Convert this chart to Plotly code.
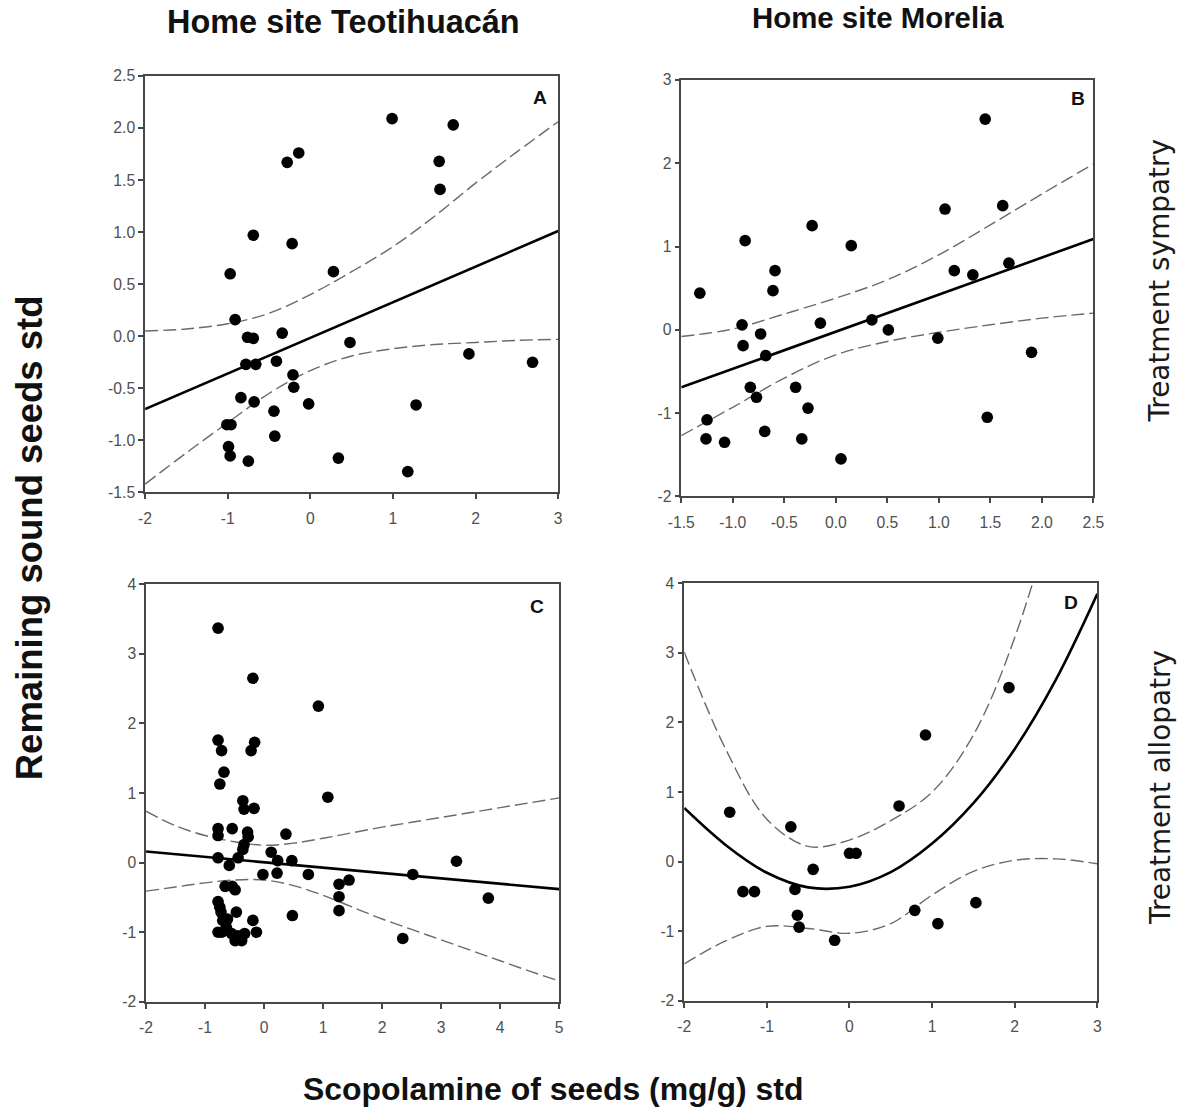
import plotly.graph_objects as go

# ---------------- Panel A: Teotihuacán, sympatry ----------------
a_x = [0.99, 1.73, -0.14, -0.28, 1.56, 1.57, -0.69, -0.22, 0.28, -0.97,
       -0.91, -0.76, -0.69, -0.34, 0.48, 1.92, 2.69, -0.78, -0.66, -0.41,
       -0.21, -0.20, -0.84, -0.68, -0.02, -0.44, 1.28, -1.01, -0.96, -0.43,
       -0.99, -0.97, -0.75, 0.34, 1.18]
a_y = [2.09, 2.03, 1.76, 1.67, 1.68, 1.41, 0.97, 0.89, 0.62, 0.60,
       0.16, -0.01, -0.02, 0.03, -0.06, -0.17, -0.25, -0.27, -0.27, -0.24,
       -0.37, -0.49, -0.59, -0.63, -0.65, -0.72, -0.66, -0.85, -0.85, -0.96,
       -1.06, -1.15, -1.20, -1.17, -1.30]
a_fit_x = [-2, 3]
a_fit_y = [-0.70, 1.01]
a_band_x = [-2, -1.5, -1, -0.5, 0, 0.5, 1, 1.5, 2, 2.5, 3]
a_upper = [0.05, 0.07, 0.12, 0.22, 0.40, 0.62, 0.86, 1.15, 1.47, 1.77, 2.06]
a_lower = [-1.42, -1.12, -0.83, -0.55, -0.33, -0.19, -0.12, -0.08, -0.06, -0.04, -0.03]
a_xticks = [-2, -1, 0, 1, 2, 3]
a_xlabels = ["-2", "-1", "0", "1", "2", "3"]
a_yticks = [-1.5, -1.0, -0.5, 0.0, 0.5, 1.0, 1.5, 2.0, 2.5]
a_ylabels = ["-1.5", "-1.0", "-0.5", "0.0", "0.5", "1.0", "1.5", "2.0", "2.5"]

# ---------------- Panel B: Morelia, sympatry ----------------
b_x = [1.45, 1.62, 1.06, -0.23, -0.88, 0.15, -0.59, 1.15, 1.33, 1.68,
       -0.61, -1.32, -0.91, -0.15, 0.35, 0.51, -0.73, -0.90, -0.68, 0.99,
       1.90, -0.83, -0.39, -0.77, -0.27, 1.47, -1.25, -1.26, -0.69, -1.08,
       -0.33, 0.05]
b_y = [2.53, 1.49, 1.45, 1.25, 1.07, 1.01, 0.71, 0.71, 0.66, 0.80,
       0.47, 0.44, 0.06, 0.08, 0.12, 0.00, -0.05, -0.19, -0.31, -0.10,
       -0.27, -0.69, -0.69, -0.81, -0.94, -1.05, -1.08, -1.31, -1.22, -1.35,
       -1.31, -1.55]
b_fit_x = [-1.5, 2.5]
b_fit_y = [-0.69, 1.09]
b_band_x = [-1.5, -1.0, -0.5, 0.0, 0.5, 1.0, 1.5, 2.0, 2.5]
b_upper = [-0.08, 0.01, 0.19, 0.38, 0.60, 0.90, 1.26, 1.63, 1.99]
b_lower = [-1.27, -0.93, -0.58, -0.30, -0.14, -0.03, 0.06, 0.14, 0.20]
b_xticks = [-1.5, -1.0, -0.5, 0.0, 0.5, 1.0, 1.5, 2.0, 2.5]
b_xlabels = ["-1.5", "-1.0", "-0.5", "0.0", "0.5", "1.0", "1.5", "2.0", "2.5"]
b_yticks = [-2, -1, 0, 1, 2, 3]
b_ylabels = ["-2", "-1", "0", "1", "2", "3"]

# ---------------- Panel C: Teotihuacán, allopatry ----------------
c_x = [-0.78, -0.19, 0.92, -0.78, -0.72, -0.16, -0.22, -0.68, -0.75, -0.36,
       -0.34, -0.17, -0.78, -0.78, -0.54, -0.28, -0.27, -0.34, -0.36, 0.37,
       -0.78, -0.44, -0.59, 0.12, 0.23, 0.47, -0.02, 0.22, 0.75, -0.66,
       -0.54, -0.49, -0.78, -0.73, -0.47, -0.19, -0.70, -0.78, -0.64, -0.55,
       -0.49, -0.38, -0.33, -0.13, 0.48, -0.72, -0.44, -0.62, -0.75, 1.08,
       1.44, 1.27, 1.27, 1.27, 2.52, 3.26, 3.80, 2.35]
c_y = [3.37, 2.65, 2.25, 1.76, 1.61, 1.73, 1.61, 1.30, 1.13, 0.89,
       0.77, 0.78, 0.49, 0.39, 0.49, 0.44, 0.37, 0.26, 0.19, 0.41,
       0.07, 0.07, -0.04, 0.15, 0.03, 0.03, -0.17, -0.15, -0.17, -0.34,
       -0.34, -0.39, -0.56, -0.71, -0.71, -0.83, -0.83, -1.00, -0.93, -1.02,
       -1.12, -1.12, -1.02, -1.00, -0.76, -1.00, -1.05, -0.81, -0.64, 0.94,
       -0.25, -0.31, -0.49, -0.69, -0.17, 0.02, -0.51, -1.09]
c_fit_x = [-2, 5]
c_fit_y = [0.16, -0.38]
c_band_x = [-2, -1.5, -1, -0.5, 0, 0.5, 1, 1.5, 2, 2.5, 3, 3.5, 4, 4.5, 5]
c_upper = [0.74, 0.53, 0.39, 0.30, 0.25, 0.28, 0.35, 0.43, 0.51, 0.58,
           0.65, 0.72, 0.79, 0.86, 0.93]
c_lower = [-0.41, -0.35, -0.29, -0.25, -0.25, -0.33, -0.47, -0.64, -0.81, -0.96,
           -1.11, -1.26, -1.41, -1.56, -1.70]
c_xticks = [-2, -1, 0, 1, 2, 3, 4, 5]
c_xlabels = ["-2", "-1", "0", "1", "2", "3", "4", "5"]
c_yticks = [-2, -1, 0, 1, 2, 3, 4]
c_ylabels = ["-2", "-1", "0", "1", "2", "3", "4"]

# ---------------- Panel D: Morelia, allopatry (quadratic fit) ----------------
d_x = [-1.45, -0.71, 0.60, 0.92, 1.93, 0.00, 0.08, -0.44, -1.29, -1.15,
       -0.66, -0.63, -0.61, -0.18, 0.79, 1.07, 1.53]
d_y = [0.71, 0.50, 0.80, 1.82, 2.50, 0.12, 0.12, -0.11, -0.43, -0.43,
       -0.40, -0.77, -0.94, -1.13, -0.70, -0.89, -0.59]
d_band_x = [-2, -1.5, -1, -0.5, 0, 0.5, 1, 1.5, 2, 2.5, 3]
d_fit_y = [0.77, 0.24, -0.16, -0.37, -0.36, -0.15, 0.26, 0.84, 1.62, 2.62, 3.85]
d_upper = [3.01, 1.62, 0.61, 0.22, 0.31, 0.59, 1.00, 1.82, 3.22, 5.20, 7.70]
d_lower = [-1.47, -1.14, -0.93, -0.96, -1.03, -0.89, -0.48, -0.14, 0.02, 0.04, -0.03]
d_xticks = [-2, -1, 0, 1, 2, 3]
d_xlabels = ["-2", "-1", "0", "1", "2", "3"]
d_yticks = [-2, -1, 0, 1, 2, 3, 4]
d_ylabels = ["-2", "-1", "0", "1", "2", "3", "4"]

# Figure size; the page adds an 8px body margin and the capture of the whole
# page is fitted back to the window, so layout positions below are given in
# window pixels and converted through that offset and scale.
W, H = 1195, 1120
OFFSET = 8
S = 0.986

DASH_COLOR = "#6a6a6a"
AXIS_COLOR = "#474747"
TICK_FONT = dict(family="Liberation Sans, Arial, sans-serif", size=15.5 / S, color="#505050")

fig = go.Figure()


def add_panel(n, px, py, band_x, upper, lower, fit_x, fit_y, fit_shape):
    xa = "x" if n == 1 else f"x{n}"
    ya = "y" if n == 1 else f"y{n}"
    dash_line = dict(color=DASH_COLOR, width=1.4, dash="13px,5px", shape="spline")
    fig.add_trace(go.Scatter(x=band_x, y=upper, mode="lines", line=dash_line,
                             xaxis=xa, yaxis=ya, hoverinfo="skip"))
    fig.add_trace(go.Scatter(x=band_x, y=lower, mode="lines", line=dash_line,
                             xaxis=xa, yaxis=ya, hoverinfo="skip"))
    fig.add_trace(go.Scatter(x=fit_x, y=fit_y, mode="lines",
                             line=dict(color="black", width=2.6, shape=fit_shape),
                             xaxis=xa, yaxis=ya, hoverinfo="skip"))
    fig.add_trace(go.Scatter(x=px, y=py, mode="markers",
                             marker=dict(color="black", size=11.5 / S, line=dict(width=0)),
                             xaxis=xa, yaxis=ya, cliponaxis=False))


add_panel(1, a_x, a_y, a_band_x, a_upper, a_lower, a_fit_x, a_fit_y, "linear")
add_panel(2, b_x, b_y, b_band_x, b_upper, b_lower, b_fit_x, b_fit_y, "linear")
add_panel(3, c_x, c_y, c_band_x, c_upper, c_lower, c_fit_x, c_fit_y, "linear")
add_panel(4, d_x, d_y, d_band_x, d_upper, d_lower, d_band_x, d_fit_y, "spline")


def fx(px):
    return ((px - OFFSET) / S) / W


def fy(py):
    return 1 - ((py - OFFSET) / S) / H


def axis(x_or_y, a, b, rng, tickvals, ticktext, anchor, standoff):
    domain = [fx(a), fx(b)] if x_or_y == "x" else [fy(b), fy(a)]
    return dict(domain=domain, range=rng, tickvals=tickvals, ticktext=ticktext,
                anchor=anchor, showline=True, linecolor=AXIS_COLOR, linewidth=1.5,
                mirror=True, ticks="outside", ticklen=5, tickwidth=1.5,
                tickcolor=AXIS_COLOR, showgrid=False, zeroline=False,
                tickfont=TICK_FONT, ticklabelstandoff=standoff, fixedrange=True)


fig.update_layout(
    width=W, height=H,
    margin=dict(l=0, r=0, t=0, b=0),
    paper_bgcolor="white", plot_bgcolor="white",
    showlegend=False,
    xaxis=axis("x", 140, 556, [-2, 3], a_xticks, a_xlabels, "y", 6),
    yaxis=axis("y", 76, 493, [-1.5, 2.5], a_yticks, a_ylabels, "x", 0),
    xaxis2=axis("x", 680, 1095, [-1.5, 2.5], b_xticks, b_xlabels, "y2", 6),
    yaxis2=axis("y", 80, 497, [-2, 3], b_yticks, b_ylabels, "x2", 0),
    xaxis3=axis("x", 141, 557, [-2, 5], c_xticks, c_xlabels, "y3", 6),
    yaxis3=axis("y", 585, 1003, [-2, 4], c_yticks, c_ylabels, "x3", 0),
    xaxis4=axis("x", 683, 1099, [-2, 3], d_xticks, d_xlabels, "y4", 6),
    yaxis4=axis("y", 584, 1002, [-2, 4], d_yticks, d_ylabels, "x4", 0),
)

BOLD = "Liberation Sans, Arial, sans-serif"


def label(text, x, y, size, family=BOLD, angle=0, color="#111111"):
    fig.add_annotation(text=text, x=fx(x), y=fy(y), xref="paper", yref="paper",
                       showarrow=False, xanchor="center", yanchor="middle",
                       textangle=angle, font=dict(family=family, size=size / S, color=color))


label("<b>Home site Teotihuacán</b>", 340, 22, 32)
label("<b>Home site Morelia</b>", 878, 18, 29)
label("<b>Scopolamine of seeds (mg/g) std</b>", 551, 1090, 31.5)
label("<b>Remaining sound seeds std</b>", 23, 538, 36, angle=-90)
label("Treatment sympatry", 1162, 281, 27.5, family="DejaVu Sans, sans-serif", angle=-90, color="#1a1a1a")
label("Treatment allopatry", 1162, 788, 27.5, family="DejaVu Sans, sans-serif", angle=-90, color="#1a1a1a")

label("<b>A</b>", 538, 98, 19)
label("<b>B</b>", 1080, 99, 19)
label("<b>C</b>", 535, 607, 19)
label("<b>D</b>", 1072, 603, 19)

fig.write_html("out.html")
